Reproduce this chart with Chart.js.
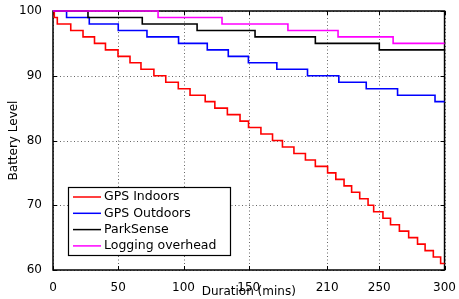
<!DOCTYPE html>
<html>
<head>
<meta charset="utf-8">
<script src="https://cdn.jsdelivr.net/npm/chart.js@4/dist/chart.umd.min.js"></script>
<style>
  body { margin: 0; background: #fff; }
  canvas { display: block; }
</style>
</head>
<body>
<canvas id="batteryChart" width="459" height="299"></canvas>
<script>
// step points: time (mins) where the level drops, and the level after the drop
const indoorsTime = [0, 1, 3.3, 13.6, 23, 31.8, 40.2, 49.8, 59, 67.4, 77.3, 86.4, 96, 105, 116.6, 124, 133.6, 143.3, 149.8, 159.3, 168.2, 175.8, 184.6, 193.4, 201, 210.4, 216.7, 223, 228.8, 235, 241.4, 245.7, 252.8, 258.6, 265.4, 272.5, 279.3, 285.1, 291.4, 297, 300];
const indoorsLevel = [100, 99, 98, 97, 96, 95, 94, 93, 92, 91, 90, 89, 88, 87, 86, 85, 84, 83, 82, 81, 80, 79, 78, 77, 76, 75, 74, 73, 72, 71, 70, 69, 68, 67, 66, 65, 64, 63, 62, 61, 61];

const outdoorsTime = [0, 10.4, 27.8, 50, 72, 96.2, 118.2, 134.3, 149.7, 171.5, 195, 219, 240, 264, 292.7, 300];
const outdoorsLevel = [100, 99, 98, 97, 96, 95, 94, 93, 92, 91, 90, 89, 88, 87, 86, 86];

const parkTime = [0, 26.8, 68.4, 110.4, 154.8, 201, 250, 300];
const parkLevel = [100, 99, 98, 97, 96, 95, 94, 94];

const loggingTime = [0, 80.5, 129.5, 180, 218.4, 260.6, 300];
const loggingLevel = [100, 99, 98, 97, 96, 95, 95];

const seriesNames = ['GPS Indoors', 'GPS Outdoors', 'ParkSense', 'Logging overhead'];
const seriesColors = ['#ff0000', '#0000ff', '#000000', '#ff00ff'];

const xTicks = [0, 50, 100, 150, 210, 250, 300];
const yTicks = [60, 70, 80, 90, 100];

function toPoints(times, levels) {
    return times.map((t, i) => ({ x: t, y: levels[i] }));
}

const allSeries = [
    toPoints(indoorsTime, indoorsLevel),
    toPoints(outdoorsTime, outdoorsLevel),
    toPoints(parkTime, parkLevel),
    toPoints(loggingTime, loggingLevel)
];

// dotted grid + box + inward ticks (matlab look), drawn under the lines
const framePlugin = {
    id: 'frame',
    beforeDatasetsDraw(chart) {
        const { ctx, chartArea: a, scales } = chart;
        ctx.save();
        ctx.strokeStyle = '#666';
        ctx.lineWidth = 1;
        ctx.setLineDash([1, 2.5]);
        ctx.beginPath();
        xTicks.forEach(v => {
            const px = Math.round(scales.x.getPixelForValue(v)) + 0.5;
            ctx.moveTo(px, a.top); ctx.lineTo(px, a.bottom);
        });
        yTicks.forEach(v => {
            const py = Math.round(scales.y.getPixelForValue(v)) + 0.5;
            ctx.moveTo(a.left, py); ctx.lineTo(a.right, py);
        });
        ctx.stroke();

        ctx.setLineDash([]);
        ctx.strokeStyle = '#000';
        ctx.beginPath();
        xTicks.forEach(v => {
            const px = Math.round(scales.x.getPixelForValue(v)) + 0.5;
            ctx.moveTo(px, a.bottom); ctx.lineTo(px, a.bottom - 4);
            ctx.moveTo(px, a.top); ctx.lineTo(px, a.top + 4);
        });
        yTicks.forEach(v => {
            const py = Math.round(scales.y.getPixelForValue(v)) + 0.5;
            ctx.moveTo(a.left, py); ctx.lineTo(a.left + 4, py);
            ctx.moveTo(a.right, py); ctx.lineTo(a.right - 4, py);
        });
        ctx.stroke();
        ctx.lineWidth = 1.5;
        ctx.strokeRect(a.left, a.top, a.right - a.left, a.bottom - a.top);
        ctx.restore();
    }
};

// legend box in lower left of the plot
const boxLegend = {
    id: 'boxLegend',
    afterDraw(chart) {
        const ctx = chart.ctx;
        const left = 68.5, top = 187.5, w = 162, h = 68;
        ctx.save();
        ctx.fillStyle = '#fff';
        ctx.fillRect(left, top, w, h);
        ctx.strokeStyle = '#000';
        ctx.lineWidth = 1.2;
        ctx.strokeRect(left, top, w, h);
        ctx.font = '12.5px "DejaVu Sans"';
        ctx.textBaseline = 'middle';
        ctx.fillStyle = '#000';
        seriesNames.forEach((name, i) => {
            const y = 197 + i * 16.3;
            ctx.strokeStyle = seriesColors[i];
            ctx.lineWidth = 1.5;
            ctx.beginPath();
            ctx.moveTo(73, y);
            ctx.lineTo(101, y);
            ctx.stroke();
            ctx.fillText(name, 104, y);
        });
        ctx.restore();
    }
};

Chart.defaults.font.family = '"DejaVu Sans"';
Chart.defaults.font.size = 12;
Chart.defaults.color = '#000';

const ctx = document.getElementById('batteryChart').getContext('2d');
new Chart(ctx, {
    type: 'line',
    data: {
        datasets: allSeries.map((pts, i) => ({
            label: seriesNames[i],
            data: pts,
            borderColor: seriesColors[i],
            borderWidth: 1.6,
            stepped: 'before', // hold level, then drop at the next point
            pointRadius: 0,
            fill: false,
            clip: 3,
            order: 4 - i
        }))
    },
    options: {
        responsive: false,
        animation: false,
        layout: { padding: { top: 11, right: 10, left: 0, bottom: 0 } },
        plugins: {
            legend: { display: false },
            tooltip: { enabled: false }
        },
        scales: {
            x: {
                type: 'linear',
                min: 0,
                max: 300,
                afterBuildTicks: scale => { scale.ticks = xTicks.map(v => ({ value: v })); },
                afterFit: scale => { scale.height = 29; },
                ticks: { padding: 3, maxRotation: 0, autoSkip: false },
                grid: { display: false },
                border: { display: false },
                title: { display: true, text: 'Duration (mins)', padding: { top: 0, bottom: 0 } }
            },
            y: {
                min: 60,
                max: 100,
                afterBuildTicks: scale => { scale.ticks = yTicks.map(v => ({ value: v })); },
                afterFit: scale => { scale.width = 53; },
                ticks: { padding: 3 },
                grid: { display: false },
                border: { display: false },
                title: { display: true, text: 'Battery Level', padding: { top: 7, bottom: 0 } }
            }
        }
    },
    plugins: [framePlugin, boxLegend]
});
</script>
</body>
</html>
